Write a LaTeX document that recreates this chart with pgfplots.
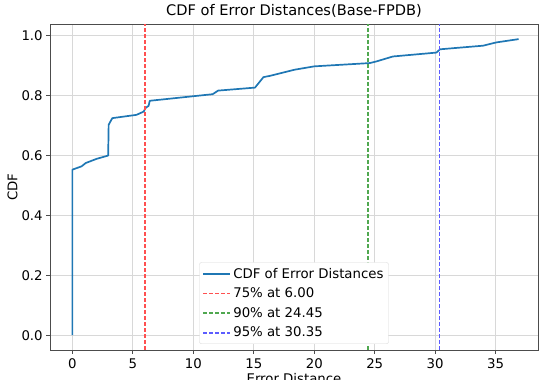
\documentclass[border=0pt]{standalone}
\usepackage{fontspec}
\setmainfont{DejaVu Sans}
\usepackage{pgfplots}
\pgfplotsset{compat=1.18}
\definecolor{tabblue}{HTML}{1F77B4}
\definecolor{gridgray}{HTML}{D8D8D8}
\definecolor{mplred}{HTML}{FF5050}
\definecolor{mplgreen}{HTML}{50A850}
\definecolor{mplblue}{HTML}{5C5CFF}
\begin{document}
\begin{tikzpicture}[x=1pt,y=1pt]
\path[use as bounding box] (0,0) rectangle (539,380);
\begin{axis}[
  at={(50pt,30pt)}, anchor=south west,
  scale only axis, width=488pt, height=326pt,
  xmin=-1.85, xmax=38.5, ymin=-0.0495, ymax=1.0395,
  xtick={0,5,10,15,20,25,30,35},
  ytick={0,0.2,0.4,0.6,0.8,1.0},
  yticklabel style={/pgf/number format/.cd, fixed, fixed zerofill, precision=1},
  /pgf/number format/assume math mode=true,
  tick label style={font=\fontsize{13.3}{15}\selectfont},
  xticklabel style={yshift=-1pt},
  tick align=outside, tick pos=left,
  major tick length=3.8pt,
  tick style={black!70, line width=0.8pt},
  axis line style={black!70, line width=0.8pt},
  grid=major, grid style={gridgray, line width=0.8pt},
  title={CDF of Error Distances(Base-FPDB)},
  title style={font=\fontsize{14.6}{17}\selectfont, yshift=-3pt},
  xlabel={Error Distance},
  ylabel={CDF},
  label style={font=\fontsize{13.3}{15}\selectfont},
  xlabel style={yshift=2pt},
  ylabel style={yshift=-3pt},
  legend style={at={(0.5,0.0184)}, anchor=south, draw=black!15, rounded corners=2pt,
    fill=white,
    font=\fontsize{13.3}{15}\selectfont,
    row sep=4.2pt, inner xsep=3pt, inner ysep=3.5pt},
  legend cell align=left,
  legend image code/.code={\draw[#1] (0pt,0pt) -- (27pt,0pt);},
]
\addplot[draw=tabblue, color=tabblue, line width=1.7pt, line join=round] coordinates {
(0,0) (0,0.553) (0.76,0.564) (1.1,0.575) (2.0,0.589) (2.96,0.600) (3.0,0.703) (3.3,0.725) (5.3,0.736) (5.9,0.747) (6.05,0.759) (6.3,0.766) (6.4,0.783) (11.6,0.805) (12.05,0.817) (15.1,0.827) (15.8,0.862) (16.3,0.866) (18.4,0.887) (20.0,0.898) (24.6,0.909) (25.1,0.914) (26.5,0.931) (30.1,0.944) (30.4,0.955) (33.95,0.967) (35.06,0.978) (36.9,0.989)
};
\addlegendentry{CDF of Error Distances}
\addplot[forget plot, draw=mplred, color=mplred, line width=1.8pt, dash pattern=on 4pt off 2pt] coordinates {(6.00,-0.0495) (6.00,1.0395)};
\addplot[forget plot, draw=mplgreen, color=mplgreen, line width=1.8pt, dash pattern=on 4pt off 2pt] coordinates {(24.45,-0.0495) (24.45,1.0395)};
\addplot[forget plot, draw=mplblue, color=mplblue, line width=1.8pt, dash pattern=on 4pt off 2pt] coordinates {(30.35,-0.0495) (30.35,1.0395)};
\addlegendimage{draw=mplred, color=mplred, line width=1.8pt, dash pattern=on 4pt off 2pt}
\addlegendentry{75\% at 6.00}
\addlegendimage{draw=mplgreen, color=mplgreen, line width=1.8pt, dash pattern=on 4pt off 2pt}
\addlegendentry{90\% at 24.45}
\addlegendimage{draw=mplblue, color=mplblue, line width=1.8pt, dash pattern=on 4pt off 2pt}
\addlegendentry{95\% at 30.35}
\end{axis}
\end{tikzpicture}
\end{document}
